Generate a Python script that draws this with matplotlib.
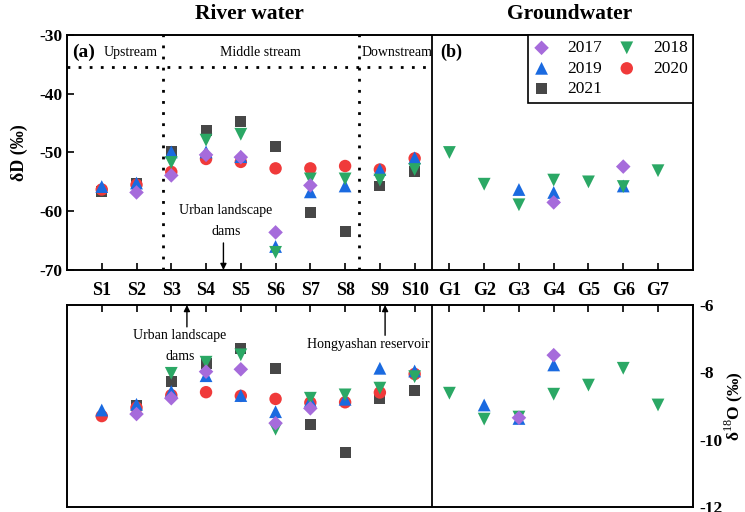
import numpy as np
import matplotlib
matplotlib.use("Agg")
import matplotlib.pyplot as plt

plt.rcParams['font.family'] = ['Liberation Serif', 'DejaVu Serif']
plt.rcParams['mathtext.fontset'] = 'custom'
plt.rcParams['mathtext.rm'] = 'Liberation Serif'
plt.rcParams['mathtext.bf'] = 'Liberation Serif:bold'
plt.rcParams['axes.unicode_minus'] = False

nan = np.nan
sites = ["S1", "S2", "S3", "S4", "S5", "S6", "S7", "S8", "S9", "S10",
         "G1", "G2", "G3", "G4", "G5", "G6", "G7"]
years = ["2017", "2018", "2019", "2020", "2021"]

# δD (‰) per year, one value per site
dD_2017 = [nan, -56.8, -53.9, -50.4, -50.8, -63.6, -55.6, nan, nan, nan,
           nan, nan, nan, -58.5, nan, -52.4, nan]
dD_2018 = [nan, nan, -51.7, -47.9, -46.9, -67.0, -54.5, -54.5, -54.7, -52.9,
           -50.0, -55.4, -58.9, -54.7, -55.0, -55.8, -53.1]
dD_2019 = [-55.8, -55.2, -49.9, -49.9, -50.7, -66.0, -56.7, -55.7, -52.9, -50.9,
           nan, nan, -56.3, -56.8, nan, -55.7, nan]
dD_2020 = [-56.3, -55.5, -53.3, -51.1, -51.6, -52.7, -52.7, -52.3, -52.9, -51.0,
           nan, nan, nan, nan, nan, nan, nan]
dD_2021 = [-56.6, -55.3, -49.9, -46.3, -44.8, -48.9, -60.2, -63.5, -55.7, -53.3,
           nan, nan, nan, nan, nan, nan, nan]

# δ18O (‰) per year, one value per site
d18O_2017 = [nan, -9.24, -8.77, -7.98, -7.91, -9.51, -9.07, nan, nan, nan,
             nan, nan, -9.35, -7.49, nan, nan, nan]
d18O_2018 = [nan, nan, -8.03, -7.70, -7.48, -9.69, -8.77, -8.67, -8.47, -8.13,
             -8.62, -9.39, -9.33, -8.65, -8.38, -7.88, -8.97]
d18O_2019 = [-9.12, -8.95, -8.57, -8.10, -8.69, -9.17, -8.85, -8.80, -7.88, -7.96,
             nan, -8.97, -9.37, -7.78, nan, nan, nan]
d18O_2020 = [-9.30, -9.05, -8.68, -8.59, -8.70, -8.79, -8.90, -8.89, -8.60, -8.05,
             nan, nan, nan, nan, nan, nan, nan]
d18O_2021 = [nan, -8.97, -8.26, -7.75, -7.29, -7.88, -9.54, -10.37, -8.77, -8.55,
             nan, nan, nan, nan, nan, nan, nan]

dD = [dD_2017, dD_2018, dD_2019, dD_2020, dD_2021]
d18O = [d18O_2017, d18O_2018, d18O_2019, d18O_2020, d18O_2021]

markers = ["D", "v", "^", "o", "s"]
colors = ["#A66BDB", "#2BA865", "#1A6AE0", "#F03A3A", "#474747"]
sizes = [55, 85, 85, 80, 62]

x = np.arange(1, len(sites) + 1)

fig = plt.figure(figsize=(7.45, 5.12), dpi=100)
ax1 = fig.add_axes([0.0899, 0.4727, 0.8400, 0.4589])
ax2 = fig.add_axes([0.0899, 0.0098, 0.8400, 0.3945])

draw_order = [4, 3, 2, 1, 0]
for ax, data in ((ax1, dD), (ax2, d18O)):
    for i in draw_order:
        ax.scatter(x, data[i], marker=markers[i], s=sizes[i], color=colors[i],
                   edgecolors='none', label=years[i], zorder=3 + (4 - i) * 0.1)
    ax.set_xlim(0, 18)
    ax.axvline(10.5, color='black', lw=1.3, zorder=2)
    for sp in ax.spines.values():
        sp.set_linewidth(1.4)

# upper panel: δD
ax1.set_ylim(-70, -30)
ax1.set_yticks([-70, -60, -50, -40, -30])
ax1.set_xticks(x)
ax1.set_xticklabels(sites, fontsize=13, fontweight='bold')
ax1.tick_params(axis='x', direction='in', length=5, width=1.2, pad=9)
ax1.tick_params(axis='y', direction='in', length=5, width=1.2, labelsize=12.5)
for t in ax1.get_yticklabels():
    t.set_fontweight('bold')
ax1.set_ylabel("δD (‰)", fontsize=13, fontweight='bold', labelpad=8)

dot = (0, (1, 3))
for xv in (2.75, 8.4):
    ax1.axvline(xv, color='black', lw=2, ls=dot, zorder=2)
ax1.plot([0, 10.5], [-35.5, -35.5], color='black', lw=2, ls=dot, zorder=2)

ax1.text(0.15, -32.9, "(a)", fontsize=14, fontweight='bold', va='center')
ax1.text(1.82, -32.9, "Upstream", fontsize=10, va='center', ha='center')
ax1.text(5.55, -32.9, "Middle stream", fontsize=10, va='center', ha='center')
ax1.text(9.5, -32.9, "Downstream", fontsize=10, va='center', ha='center')
ax1.text(10.75, -32.9, "(b)", fontsize=13, fontweight='bold', va='center')

ax1.text(4.57, -59.8, "Urban landscape", fontsize=10, ha='center', va='center')
ax1.text(4.57, -63.4, "dams", fontsize=10, ha='center', va='center')
ax1.annotate("", xy=(4.5, -70), xytext=(4.5, -65.4),
             arrowprops=dict(arrowstyle='-|>', color='black', lw=1,
                             mutation_scale=9, shrinkA=0, shrinkB=0))

ax1.text(5.26, -27.3, "River water", fontsize=15.5, fontweight='bold', ha='center')
ax1.text(14.45, -27.3, "Groundwater", fontsize=15.5, fontweight='bold', ha='center')

handles, labels = ax1.get_legend_handles_labels()
order = [labels.index(y) for y in ["2017", "2019", "2021", "2018", "2020"]]
leg = ax1.legend([handles[k] for k in order], [labels[k] for k in order],
                 ncol=2, loc='upper right', fontsize=12.5, frameon=True,
                 fancybox=False, edgecolor='black', borderaxespad=0,
                 handletextpad=1.0, columnspacing=0.9, labelspacing=0.25,
                 borderpad=0.3, handlelength=1.0)
leg.get_frame().set_linewidth(1.2)
leg.get_frame().set_alpha(1)

# lower panel: δ18O
ax2.set_ylim(-12, -6)
ax2.set_yticks([-12, -10, -8, -6])
ax2.yaxis.tick_right()
ax2.yaxis.set_label_position('right')
ax2.xaxis.tick_top()
ax2.set_xticks(x)
ax2.set_xticklabels([])
ax2.tick_params(axis='x', direction='in', length=5, width=1.2)
ax2.tick_params(axis='y', direction='in', length=0, labelsize=12.5, pad=5)
for t in ax2.get_yticklabels():
    t.set_fontweight('bold')
ax2.set_ylabel("δ$^{18}$O (‰)", fontsize=12.5, fontweight='bold',
               rotation=90, labelpad=0)

ax2.annotate("", xy=(3.45, -6), xytext=(3.45, -6.65),
             arrowprops=dict(arrowstyle='-|>', color='black', lw=1,
                             mutation_scale=9, shrinkA=0, shrinkB=0))
ax2.text(3.25, -6.92, "Urban landscape", fontsize=10, ha='center', va='center')
ax2.text(3.25, -7.54, "dams", fontsize=10, ha='center', va='center')
ax2.annotate("", xy=(9.15, -6), xytext=(9.15, -6.9),
             arrowprops=dict(arrowstyle='-|>', color='black', lw=1,
                             mutation_scale=9, shrinkA=0, shrinkB=0))
ax2.text(8.66, -7.16, "Hongyashan reservoir", fontsize=10, ha='center', va='center')

fig.savefig("out.png", dpi=100)
